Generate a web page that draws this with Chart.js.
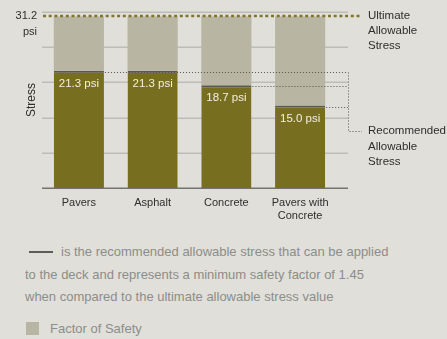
<!DOCTYPE html>
<html>
<head>
<meta charset="utf-8">
<script src="https://cdn.jsdelivr.net/npm/chart.js@4.4.1/dist/chart.umd.min.js"></script>
<style>
  html, body { margin: 0; padding: 0; background: #e0dfd9; }
  body { width: 447px; height: 339px; overflow: hidden; font-family: "Liberation Sans", Arial, sans-serif; }
  #wrap { position: relative; width: 447px; height: 230px; }
  .note { position: absolute; left: 25px; top: 241px; width: 422px; color: #8d8d89; font-size: 13px; line-height: 22.5px; white-space: nowrap; }
  .note .dash { display: inline-block; width: 24px; height: 2px; background: #5c5c58; vertical-align: middle; margin: 0 8px 2px 4px; }
  .key { position: absolute; left: 26px; top: 322px; color: #8d8d89; font-size: 13px; line-height: 14px; }
  .key .box { display: inline-block; width: 13px; height: 13px; background: #b8b5a3; vertical-align: top; margin-right: 11px; }
</style>
</head>
<body>
<div id="wrap"><canvas id="stress"></canvas></div>
<div class="note"><span class="dash"></span>is the recommended allowable stress that can be applied<br>to the deck and represents a minimum safety factor of 1.45<br>when compared to the ultimate allowable stress value</div>
<div class="key"><span class="box"></span>Factor of Safety</div>
<script>
// deck surfaces
var categories = ['Pavers', 'Asphalt', 'Concrete', ['Pavers with', 'Concrete']];
// recommended allowable stress, psi
var recommended = [21.3, 21.3, 18.7, 15.0];
// remaining margin up to the ultimate stress, psi
var factorOfSafety = [9.9, 9.9, 12.5, 16.2];
var ultimateStress = 31.2;
var yMax = 32;
var yStep = 6.4;

var OLIVE = '#786e20';
var TEXT = '#2e2e2c';
var FONT = '"Liberation Sans", Arial, sans-serif';

var overlay = {
  id: 'overlay',
  beforeDatasetsDraw: function(chart) {
    var ctx = chart.ctx, a = chart.chartArea, y = chart.scales.y;
    var gridRight = a.right + 11;
    ctx.save();
    ctx.lineWidth = 1.5;
    for (var i = 0; i < y.ticks.length; i++) {
      var py = Math.round(y.getPixelForValue(y.ticks[i].value)) + 0.25;
      ctx.strokeStyle = y.ticks[i].value === 0 ? '#74746e' : '#bdbdb7';
      ctx.beginPath();
      ctx.moveTo(a.left, py);
      ctx.lineTo(gridRight, py);
      ctx.stroke();
    }
    ctx.restore();
  },
  afterDatasetsDraw: function(chart) {
    var ctx = chart.ctx, a = chart.chartArea, y = chart.scales.y;
    var gridRight = a.right + 11;
    var bars = chart.getDatasetMeta(0).data;
    ctx.save();

    // ultimate allowable stress line
    var uy = Math.round(y.getPixelForValue(ultimateStress));
    ctx.strokeStyle = '#80752a';
    ctx.lineWidth = 2.5;
    ctx.setLineDash([3, 2.7]);
    ctx.beginPath();
    ctx.moveTo(a.left + 1, uy);
    ctx.lineTo(gridRight + 14, uy);
    ctx.stroke();

    // recommended stress leaders
    ctx.strokeStyle = '#55554f';
    ctx.lineWidth = 1;
    ctx.setLineDash([1, 2]);
    var topY = null;
    for (var i = 0; i < recommended.length; i++) {
      if (i > 0 && recommended[i] === recommended[i - 1]) continue;
      var ly = Math.round(y.getPixelForValue(recommended[i])) + 1.5;
      if (topY === null) topY = ly;
      var bx = bars[i].x + bars[i].width / 2;
      ctx.beginPath();
      ctx.moveTo(bx + 1, ly);
      ctx.lineTo(gridRight, ly);
      ctx.stroke();
    }
    var recY = Math.round(y.getPixelForValue(0)) - 56.5;
    ctx.beginPath();
    ctx.moveTo(gridRight + 0.5, topY);
    ctx.lineTo(gridRight + 0.5, recY);
    ctx.lineTo(gridRight + 14, recY);
    ctx.stroke();
    ctx.setLineDash([]);

    // value labels inside the bars
    ctx.fillStyle = '#f3f0df';
    ctx.font = '11.5px ' + FONT;
    ctx.textAlign = 'center';
    ctx.textBaseline = 'middle';
    for (var j = 0; j < bars.length; j++) {
      ctx.fillText(recommended[j].toFixed(1) + ' psi', bars[j].x, bars[j].y + 13);
    }

    // side labels
    ctx.fillStyle = TEXT;
    ctx.textAlign = 'left';
    var tx = gridRight + 20;
    ['Ultimate', 'Allowable', 'Stress'].forEach(function(s, k) {
      ctx.fillText(s, tx, uy + k * 15);
    });
    ['Recommended', 'Allowable', 'Stress'].forEach(function(s, k) {
      ctx.fillText(s, tx, recY - 0.5 + k * 15.5);
    });
    ctx.font = '11px ' + FONT;
    ctx.textAlign = 'right';
    ctx.fillText('31.2', a.left - 5, uy);
    ctx.fillText('psi', a.left - 5, uy + 16);
    ctx.restore();
  }
};

new Chart(document.getElementById('stress'), {
  type: 'bar',
  data: {
    labels: categories,
    datasets: [
      {
        label: 'Recommended Allowable Stress',
        data: recommended,
        backgroundColor: OLIVE,
        borderColor: '#595953',
        borderWidth: { top: 2, left: 0, right: 0, bottom: 0 },
        borderSkipped: false,
        barPercentage: 0.68,
        categoryPercentage: 1
      },
      {
        label: 'Factor of Safety',
        data: factorOfSafety,
        backgroundColor: '#b8b5a3',
        barPercentage: 0.68,
        categoryPercentage: 1
      }
    ]
  },
  options: {
    responsive: true,
    maintainAspectRatio: false,
    animation: false,
    layout: { padding: { top: 12, right: 110, left: 0, bottom: 0 } },
    plugins: {
      legend: { display: false },
      tooltip: { enabled: false }
    },
    scales: {
      x: {
        stacked: true,
        grid: { display: false, drawTicks: false },
        border: { display: false },
        ticks: { color: TEXT, font: { family: FONT, size: 11 }, padding: 8, maxRotation: 0 },
        afterFit: function(s) { s.height = 42; }
      },
      y: {
        stacked: true,
        min: 0,
        max: yMax,
        grid: { display: false },
        border: { display: false },
        ticks: { display: false, stepSize: yStep },
        title: { display: true, text: 'Stress', color: TEXT, font: { family: FONT, size: 12 }, padding: { top: 24 } },
        afterFit: function(s) { s.width = 42; }
      }
    }
  },
  plugins: [overlay]
});
</script>
</body>
</html>
